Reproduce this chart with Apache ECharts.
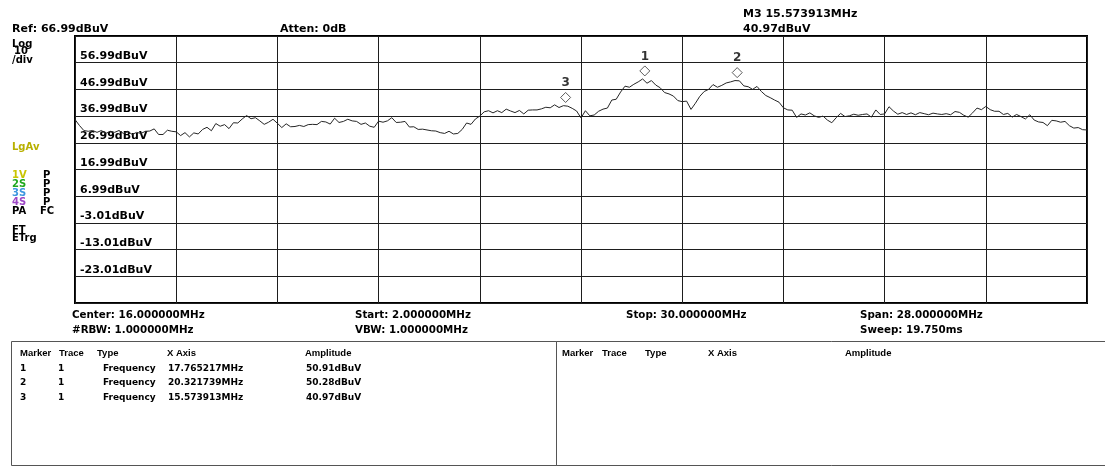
<!DOCTYPE html>
<html>
<head>
<meta charset="utf-8">
<script src="https://cdn.jsdelivr.net/npm/echarts@6/dist/echarts.min.js"></script>
<style>
  html, body { margin: 0; padding: 0; background: #fff; }
  #chart { width: 1105px; height: 468px; }
</style>
</head>
<body>
<div id="chart"></div>
<script>
// Sweep settings (MHz) and display scale (dBuV)
const startFreq = 2;
const stopFreq = 30;
const refLevel = 66.99;
const dbPerDiv = 10;
const divisions = 10;

// Trace 1 levels in dBuV, evenly spaced from start to stop frequency
const traceLevels = [
  35.7, 33.5, 31.6, 31.3, 31.6, 30.9, 31.6, 30.5, 31.3, 30.9,
  31.6, 30.5, 31.3, 30.1, 30.9, 30.5, 31.3, 31.4, 32.2, 30.1,
  30.1, 31.7, 31.3, 31.1, 29.7, 30.8, 29.2, 30.7, 30.3, 32.0,
  32.8, 31.5, 34.2, 33.2, 33.8, 32.3, 34.5, 34.4, 35.9, 37.2,
  36.0, 36.4, 35.2, 33.9, 34.7, 35.8, 34.3, 32.7, 34.1, 33.0,
  33.1, 33.5, 33.1, 33.8, 33.9, 33.8, 35.0, 34.8, 34.0, 36.2,
  34.6, 35.0, 35.8, 35.2, 35.0, 33.9, 34.4, 33.2, 32.8, 35.1,
  34.7, 35.2, 36.4, 34.6, 34.7, 35.0, 32.9, 33.0, 32.0, 32.1,
  31.8, 31.5, 31.4, 30.8, 30.5, 31.3, 30.3, 30.5, 32.0, 34.4,
  33.9, 35.9, 37.0, 38.6, 39.0, 38.2, 39.0, 38.3, 39.6, 38.9,
  38.3, 39.1, 37.8, 39.2, 39.3, 39.3, 39.7, 40.3, 40.1, 41.2,
  40.2, 40.9, 40.7, 39.9, 38.9, 36.3, 39.0, 37.1, 37.4, 38.8,
  39.6, 40.0, 43.0, 43.3, 46.0, 48.2, 47.8, 48.9, 49.8, 50.9,
  49.3, 50.3, 48.6, 47.6, 45.8, 45.3, 44.5, 42.8, 42.4, 42.6,
  39.5, 41.8, 44.4, 46.2, 47.0, 48.8, 47.8, 48.5, 49.4, 49.8,
  50.3, 50.2, 48.3, 48.0, 47.0, 48.1, 46.2, 44.7, 43.9, 43.0,
  42.2, 40.1, 39.3, 39.2, 36.5, 37.8, 37.4, 38.2, 37.1, 36.5,
  37.0, 35.5, 34.5, 36.4, 38.0, 36.8, 37.1, 37.7, 37.3, 37.6,
  37.8, 36.6, 39.3, 37.6, 37.8, 40.5, 38.9, 37.7, 38.3, 37.6,
  38.2, 37.5, 38.3, 37.9, 37.5, 38.1, 37.8, 37.6, 37.9, 37.5,
  38.7, 38.4, 37.3, 36.6, 38.2, 40.0, 39.4, 40.6, 39.4, 38.8,
  38.8, 37.6, 38.0, 36.6, 37.6, 36.8, 35.9, 37.5, 35.5, 34.8,
  34.6, 33.4, 35.4, 35.2, 34.7, 35.0, 33.4, 32.5, 32.7, 31.9,
  31.8
];

// Marker table
const markerIds = [1, 2, 3];
const markerTraces = [1, 1, 1];
const markerTypes = ['Frequency', 'Frequency', 'Frequency'];
const markerFreqs = [17.765217, 20.321739, 15.573913];
const markerAmps = [50.91, 50.28, 40.97];
const activeMarker = 2; // index of M3

// Instrument annotations
const infoRow1 = ['Center: 16.000000MHz', 'Start: 2.000000MHz', 'Stop: 30.000000MHz', 'Span: 28.000000MHz'];
const infoRow2 = ['#RBW: 1.000000MHz', 'VBW: 1.000000MHz', '', 'Sweep: 19.750ms'];
const tableHeaders = ['Marker', 'Trace', 'Type', 'X Axis', 'Amplitude'];

const bottomLevel = refLevel - dbPerDiv * divisions;
const step = (stopFreq - startFreq) / (traceLevels.length - 1);
const traceData = traceLevels.map((v, i) => [startFreq + i * step, v]);
const markerData = markerFreqs.map((f, i) => [f, markerAmps[i]]);

const FONT = '"DejaVu Sans", "Liberation Sans", sans-serif';
const mainFont = 'bold 11px ' + FONT;
const infoFont = 'bold 10.3px ' + FONT;
const smallFont = 'bold 10px ' + FONT;
const tableFont = 'bold 9px ' + FONT;
const headFont = 'bold 9.5px "Liberation Sans", sans-serif';

function txt(text, x, y, font, fill) {
  return {
    type: 'text', x: x, y: y, silent: true, z: 20,
    style: { text: text, font: font, fill: fill || '#000',
             textVerticalAlign: 'middle', verticalAlign: 'middle' }
  };
}

const graphics = [];
// header line
graphics.push(txt('Ref: ' + refLevel.toFixed(2) + 'dBuV', 12, 29.5, mainFont));
graphics.push(txt('Atten: 0dB', 280, 29.5, mainFont));
graphics.push(txt('M' + markerIds[activeMarker] + ' ' + markerFreqs[activeMarker].toFixed(6) + 'MHz', 743, 14, mainFont));
graphics.push(txt(markerAmps[activeMarker].toFixed(2) + 'dBuV', 743, 29.5, mainFont));

// left status panel
graphics.push(txt('Log', 12, 44, smallFont));
graphics.push(txt('10', 14, 51.5, smallFont));
graphics.push(txt('/div', 12, 60.5, smallFont));
graphics.push(txt('LgAv', 12, 147.5, smallFont, '#b8b000'));
const traceModes = [['1V', '#c9c400'], ['2S', '#1fa81f'], ['3S', '#3d97e0'], ['4S', '#9d47c6']];
traceModes.forEach((m, i) => {
  const y = 175.5 + i * 9;
  graphics.push(txt(m[0], 12, y, smallFont, m[1]));
  graphics.push(txt('P', 43, y, smallFont));
});
graphics.push(txt('PA', 12, 211.5, smallFont));
graphics.push(txt('FC', 40, 211.5, smallFont));
graphics.push(txt('FT', 12, 230, smallFont));
graphics.push(txt('ETrg', 12, 238.5, smallFont));

// sweep information under the graticule
const infoX = [72, 355, 626, 860];
infoRow1.forEach((t, i) => { if (t) graphics.push(txt(t, infoX[i], 315.5, infoFont)); });
infoRow2.forEach((t, i) => { if (t) graphics.push(txt(t, infoX[i], 330, infoFont)); });

// marker tables
graphics.push({ type: 'rect', silent: true, z: 15,
  shape: { x: 11.5, y: 341.5, width: 545, height: 124 },
  style: { fill: 'rgba(0,0,0,0)', stroke: '#555', lineWidth: 1 } });
graphics.push({ type: 'rect', silent: true, z: 15,
  shape: { x: 556.5, y: 341.5, width: 560, height: 124 },
  style: { fill: 'rgba(0,0,0,0)', stroke: '#555', lineWidth: 1 } });
const colL = [20, 59, 97, 167, 305];
const colR = [562, 602, 645, 708, 845];
tableHeaders.forEach((h, i) => {
  graphics.push(txt(h, colL[i], 353.5, headFont));
  graphics.push(txt(h, colR[i], 353.5, headFont));
});
markerIds.forEach((id, r) => {
  const y = 368.5 + r * 14.5;
  const cells = [String(id), String(markerTraces[r]), markerTypes[r],
                 markerFreqs[r].toFixed(6) + 'MHz', markerAmps[r].toFixed(2) + 'dBuV'];
  const xs = [20, 58, 103, 168, 306];
  cells.forEach((c, k) => graphics.push(txt(c, xs[k], y, tableFont)));
});

const chart = echarts.init(document.getElementById('chart'), null, { renderer: 'canvas' });
chart.setOption({
  animation: false,
  backgroundColor: '#fff',
  grid: { left: 75, top: 36, width: 1012, height: 267, show: true,
          borderColor: '#000', borderWidth: 2, backgroundColor: 'transparent' },
  xAxis: {
    type: 'value', min: startFreq, max: stopFreq, interval: (stopFreq - startFreq) / divisions,
    axisLine: { show: false }, axisTick: { show: false }, axisLabel: { show: false },
    splitLine: { show: true, lineStyle: { color: '#1e1e1e', width: 1 } }
  },
  yAxis: {
    type: 'value', min: bottomLevel, max: refLevel, interval: dbPerDiv,
    axisLine: { show: false }, axisTick: { show: false },
    splitLine: { show: true, lineStyle: { color: '#1e1e1e', width: 1 } },
    axisLabel: {
      inside: true, margin: 5, align: 'left', verticalAlign: 'bottom',
      padding: [0, 0, 1, 0],
      fontFamily: FONT, fontWeight: 'bold', fontSize: 11, color: '#000',
      formatter: function (v) {
        if (Math.abs(v - refLevel) < 0.005 || Math.abs(v - bottomLevel) < 0.005) return '';
        return v.toFixed(2) + 'dBuV';
      }
    }
  },
  graphic: graphics,
  series: [
    {
      type: 'line', data: traceData, showSymbol: false, symbol: 'none',
      lineStyle: { color: '#262626', width: 1 }, z: 3, silent: true
    },
    {
      type: 'scatter', data: markerData, symbol: 'diamond', symbolSize: [10, 10],
      symbolOffset: [0, -8], z: 4, silent: true,
      itemStyle: { color: '#fff', borderColor: '#333', borderWidth: 1 },
      label: {
        show: true, position: 'top', distance: 3,
        fontFamily: FONT, fontWeight: 'bold', fontSize: 12, color: '#000',
        formatter: p => String(markerIds[p.dataIndex])
      }
    }
  ]
});
</script>
</body>
</html>
